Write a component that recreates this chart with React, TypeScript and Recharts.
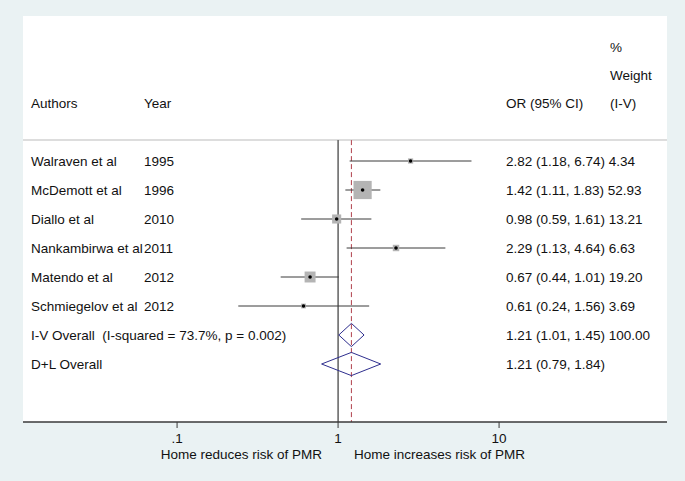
import { ComposedChart, XAxis, YAxis, CartesianGrid, ReferenceLine, Scatter, Line } from 'recharts';

// studies
const authors = ['Walraven et al', 'McDemott et al', 'Diallo et al', 'Nankambirwa et al', 'Matendo et al', 'Schmiegelov et al'];
const years = ['1995', '1996', '2010', '2011', '2012', '2012'];
const oddsRatios = [2.82, 1.42, 0.98, 2.29, 0.67, 0.61];
const ciLower = [1.18, 1.11, 0.59, 1.13, 0.44, 0.24];
const ciUpper = [6.74, 1.83, 1.61, 4.64, 1.01, 1.56];
const weights = [4.34, 52.93, 13.21, 6.63, 19.2, 3.69];

// pooled estimates
const pooledLabels = ['I-V Overall  (I-squared = 73.7%, p = 0.002)', 'D+L Overall'];
const pooledOR = [1.21, 1.21];
const pooledLower = [1.01, 0.79];
const pooledUpper = [1.45, 1.84];
const pooledWeights = ['100.00', ''];

const headerLeft = ['Authors', 'Year'];
const headerCI = 'OR (95% CI)';
const headerWeight = ['%', 'Weight', '(I-V)'];

const xTickValues = [0.1, 1, 10];
const xTickLabels = ['.1', '1', '10'];
const xAxisTitles = ['Home reduces risk of PMR', 'Home increases risk of PMR'];

// layout (log10 units on x, row units on y)
const X_MIN = -1.957;
const X_MAX = 2.043;
const Y_TOP = -5;
const Y_BOTTOM = 9;
const HEADER_LINE = -0.72;
const COL_AUTHOR = -1.907;
const COL_YEAR = -1.205;
const COL_CI = 1.043;
const COL_WEIGHT = 1.689;
const DIAMOND_HALF = 0.4;
const BOX_SCALE = 2.5;

const FONT = "'Liberation Sans', Arial, Helvetica, sans-serif";
const FS = 13.5;
const lg = (v: number) => Math.log10(v);
const f2 = (v: number) => v.toFixed(2);

const textCells: { x: number; y: number; label: string }[] = [];
textCells.push({ x: COL_AUTHOR, y: -2, label: headerLeft[0] });
textCells.push({ x: COL_YEAR, y: -2, label: headerLeft[1] });
textCells.push({ x: COL_CI, y: -2, label: headerCI });
headerWeight.forEach((h, i) => textCells.push({ x: COL_WEIGHT, y: -3.93 + i * 0.97, label: h }));
authors.forEach((a, i) => {
  textCells.push({ x: COL_AUTHOR, y: i, label: a });
  textCells.push({ x: COL_YEAR, y: i, label: years[i] });
  textCells.push({ x: COL_CI, y: i, label: `${f2(oddsRatios[i])} (${f2(ciLower[i])}, ${f2(ciUpper[i])}) ${f2(weights[i])}` });
});
pooledLabels.forEach((p, j) => {
  const row = authors.length + j;
  textCells.push({ x: COL_AUTHOR, y: row, label: p });
  textCells.push({ x: COL_CI, y: row, label: `${f2(pooledOR[j])} (${f2(pooledLower[j])}, ${f2(pooledUpper[j])}) ${pooledWeights[j]}`.trim() });
});

const studyPoints = oddsRatios.map((v, i) => ({ x: lg(v), y: i, w: weights[i] }));

const diamonds = pooledOR.map((v, j) => {
  const row = authors.length + j;
  return [
    { x: lg(pooledLower[j]), y: row },
    { x: lg(v), y: row - DIAMOND_HALF },
    { x: lg(pooledUpper[j]), y: row },
    { x: lg(v), y: row + DIAMOND_HALF },
    { x: lg(pooledLower[j]), y: row },
  ];
});

const TextCell = (props: any) => (
  <text
    x={props.cx}
    y={props.cy}
    dominantBaseline="central"
    xmlSpace="preserve"
    style={{ whiteSpace: 'pre' }}
    fontSize={FS}
    fontFamily={FONT}
    fill="#111"
  >
    {props.payload.label}
  </text>
);

const StudyBox = (props: any) => {
  const s = BOX_SCALE * Math.sqrt(props.payload.w);
  return (
    <g>
      <rect x={props.cx - s / 2} y={props.cy - s / 2} width={s} height={s} fill="#b4b4b4" />
      <circle cx={props.cx} cy={props.cy} r={1.8} fill="#000" />
    </g>
  );
};

const AxisTick = (props: any) => {
  const { x, y, payload } = props;
  const idx = xTickValues.findIndex((t) => Math.abs(lg(t) - payload.value) < 1e-9);
  return (
    <g>
      <text x={x} y={y} dy="0.71em" textAnchor="middle" fontSize={FS} fontFamily={FONT} fill="#111">
        {xTickLabels[idx]}
      </text>
      {payload.value === 0 && (
        <>
          <text x={x - 16} y={y + 26} textAnchor="end" fontSize={FS} fontFamily={FONT} fill="#111">
            {xAxisTitles[0]}
          </text>
          <text x={x + 16} y={y + 26} textAnchor="start" fontSize={FS} fontFamily={FONT} fill="#111">
            {xAxisTitles[1]}
          </text>
        </>
      )}
    </g>
  );
};

export default function App() {
  return (
    <div style={{ position: 'absolute', left: 0, top: 0, width: 685, height: 481, background: '#eaf2f3' }}>
      <ComposedChart width={685} height={481} margin={{ top: 16, right: 18, bottom: 9, left: 23 }}>
        <CartesianGrid fill="#ffffff" stroke="none" horizontal={false} vertical={false} />
        <XAxis
          type="number"
          dataKey="x"
          domain={[X_MIN, X_MAX]}
          ticks={xTickValues.map(lg)}
          height={50}
          tickSize={6}
          tickMargin={5}
          tick={<AxisTick />}
          axisLine={{ stroke: '#3a3a3a', strokeWidth: 1.5 }}
          tickLine={{ stroke: '#3a3a3a' }}
        />
        <YAxis hide type="number" dataKey="y" domain={[Y_TOP, Y_BOTTOM]} reversed />
        <ReferenceLine
          segment={[{ x: X_MIN, y: HEADER_LINE }, { x: X_MAX, y: HEADER_LINE }]}
          stroke="#d2d2d2"
          strokeWidth={1.5}
        />
        <ReferenceLine segment={[{ x: 0, y: HEADER_LINE }, { x: 0, y: Y_BOTTOM }]} stroke="#111" strokeWidth={1} />
        <ReferenceLine
          segment={[{ x: lg(pooledOR[0]), y: HEADER_LINE }, { x: lg(pooledOR[0]), y: Y_BOTTOM }]}
          stroke="#b0404c"
          strokeDasharray="5 3"
          strokeWidth={1}
        />
        {oddsRatios.map((_, i) => (
          <ReferenceLine
            key={`ci-${i}`}
            segment={[{ x: lg(ciLower[i]), y: i }, { x: lg(ciUpper[i]), y: i }]}
            stroke="#3a3a3a"
            strokeWidth={1}
          />
        ))}
        <Scatter data={studyPoints} dataKey="y" shape={<StudyBox />} isAnimationActive={false} />
        {diamonds.map((d, j) => (
          <Line
            key={`dia-${j}`}
            data={d}
            dataKey="y"
            type="linear"
            stroke="#2e2e8e"
            strokeWidth={1}
            dot={false}
            activeDot={false}
            isAnimationActive={false}
          />
        ))}
        <Scatter data={textCells} dataKey="y" shape={<TextCell />} isAnimationActive={false} />
      </ComposedChart>
    </div>
  );
}
